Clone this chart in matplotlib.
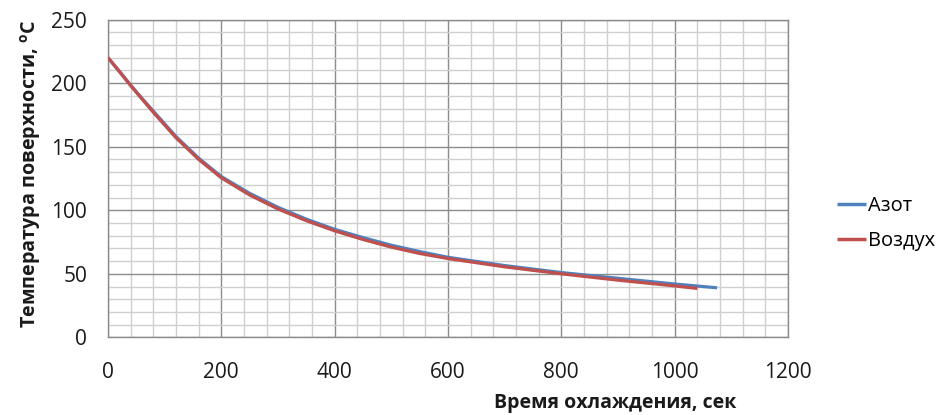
import matplotlib
matplotlib.use("Agg")
import matplotlib.pyplot as plt
from matplotlib.ticker import MultipleLocator

# ---- data ----
t_azot = [0, 20, 40, 60, 80, 100, 120, 160, 200, 250, 300, 350, 400, 450, 500,
          550, 600, 700, 800, 900, 1000, 1075]
T_azot = [220, 209.5, 198.5, 188, 178, 168, 158, 141, 126.5, 113.3, 102.3,
          93, 85, 78.5, 72.5, 67.5, 63, 56.5, 51, 46.5, 42, 39]

t_vozd = [0, 20, 40, 60, 80, 100, 120, 160, 200, 250, 300, 350, 400, 450, 500,
          550, 600, 700, 800, 900, 1000, 1040]
T_vozd = [220, 209, 198, 187.5, 177, 167, 157, 140, 125.5, 112, 101, 91.8,
          83.8, 77, 71, 66, 62, 55.5, 50, 45, 40.5, 38.5]

series_names = ["Азот", "Воздух"]
x_ticks = [0, 200, 400, 600, 800, 1000, 1200]
y_ticks = [0, 50, 100, 150, 200, 250]
x_label = "Время охлаждения, сек"
y_label = "Температура поверхности, $^{\\mathbf{o}}$C"

plt.rcParams['font.family'] = ['Open Sans', 'DejaVu Sans']
plt.rcParams['mathtext.fontset'] = 'custom'
plt.rcParams['mathtext.bf'] = 'Open Sans:bold'
plt.rcParams['mathtext.rm'] = 'Open Sans'

fig = plt.figure(figsize=(9.47, 4.15), dpi=100)
ax = fig.add_axes([0.114, 0.187, 0.718, 0.766])

ax.plot(t_azot, T_azot, color="#4F81BD", lw=2.3, label=series_names[0],
        solid_capstyle='butt', solid_joinstyle='round', zorder=3)
ax.plot(t_vozd, T_vozd, color="#C0504D", lw=2.3, label=series_names[1],
        solid_capstyle='butt', solid_joinstyle='round', zorder=4)

ax.set_xlim(0, 1200)
ax.set_ylim(0, 250)
ax.set_xticks(x_ticks)
ax.set_yticks(y_ticks)
ax.xaxis.set_minor_locator(MultipleLocator(40))
ax.yaxis.set_minor_locator(MultipleLocator(10))
ax.grid(which='major', color='#8c8c8c', lw=1.0, zorder=1)
ax.grid(which='minor', color='#cfcfcf', lw=1.0, zorder=0)
ax.set_axisbelow(True)
for s in ax.spines.values():
    s.set_color('#8c8c8c')
    s.set_linewidth(1.0)
ax.tick_params(which='both', length=0)
ax.tick_params(axis='x', pad=18, labelsize=15, labelcolor='#1a1a1a')
ax.tick_params(axis='y', pad=15, labelsize=15, labelcolor='#1a1a1a')

fig.text(0.65, 0.004, x_label, ha='center', va='bottom', fontsize=14,
         fontweight='bold', color='#1a1a1a')
fig.text(0.032, 0.58, y_label, ha='center', va='center', rotation=90,
         fontsize=14.2, fontweight='bold', color='#1a1a1a')

leg = ax.legend(loc='center left', bbox_to_anchor=(1.06, 0.357), frameon=False,
                fontsize=14.5, handlelength=1.45, handletextpad=0.12,
                labelspacing=0.75, borderaxespad=0)
for h in leg.get_lines():
    h.set_linewidth(2.5)

fig.savefig("out.png", dpi=100, facecolor='white')
